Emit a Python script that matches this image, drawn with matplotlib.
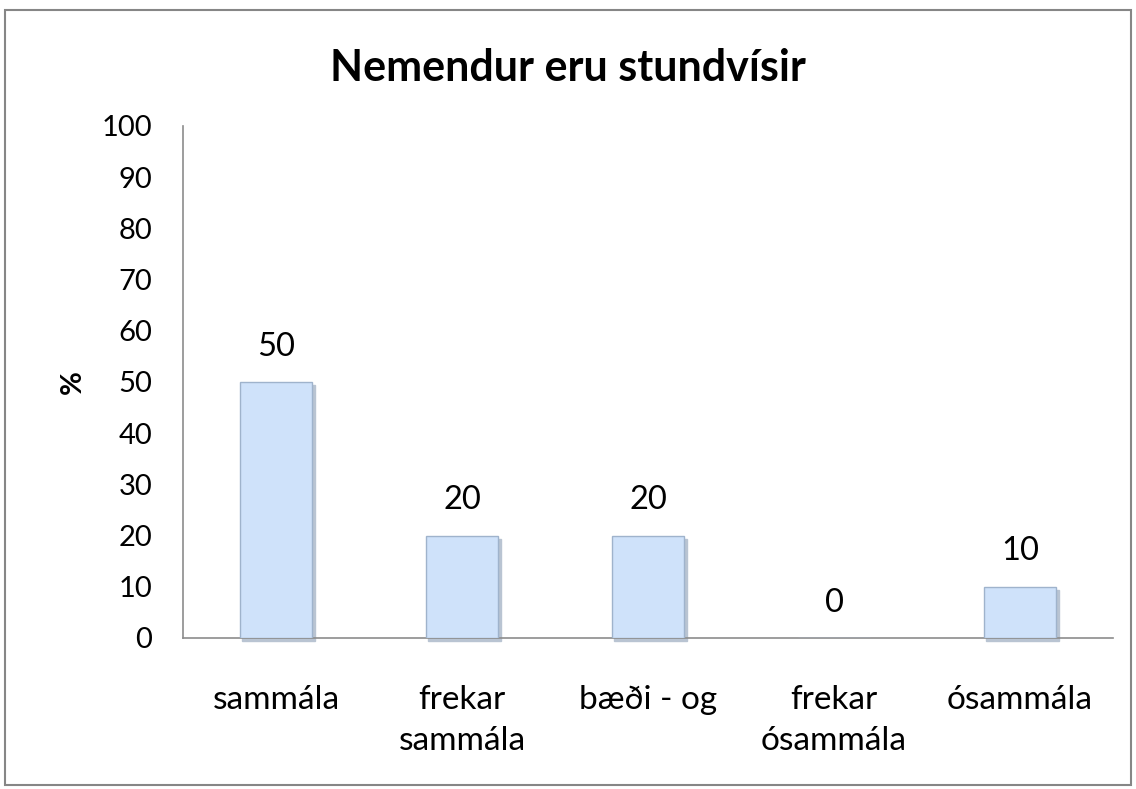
import matplotlib.pyplot as plt
from matplotlib.patches import Rectangle

# Gögn
categories = ['sammála', 'frekar\nsammála', 'bæði - og', 'frekar\nósammála', 'ósammála']
values = [50, 20, 20, 0, 10]
yticks = list(range(0, 101, 10))

plt.rcParams['font.family'] = ['Lato', 'DejaVu Sans']

fig = plt.figure(figsize=(11.36, 7.89), dpi=100)
ax = fig.add_axes([183 / 1136, 1 - 638 / 789, (1113 - 183) / 1136, (638 - 126) / 789])

x = range(len(categories))
bars = ax.bar(x, values, width=0.39, color='#cfe2fa', edgecolor='#9fb3cc', linewidth=1.0, zorder=3)

# skuggi undir súlum
for b in bars:
    if b.get_height() > 0:
        ax.add_patch(Rectangle((b.get_x() + 0.012, -0.6), b.get_width(), b.get_height(),
                               color='#b9c4d2', zorder=2, clip_on=False))

for xi, v in zip(x, values):
    ax.text(xi, v + 4, str(v), ha='center', va='bottom', fontsize=23.5)

ax.set_xlim(-0.5, len(categories) - 0.5)
ax.set_ylim(0, 100)
ax.set_yticks(yticks)
ax.set_xticks(list(x))
ax.set_xticklabels(categories, fontsize=24, linespacing=1.45)
ax.tick_params(axis='y', labelsize=21, length=0, pad=22)
ax.tick_params(axis='x', length=0, pad=34)
for lab in ax.get_yticklabels():
    lab.set_horizontalalignment('right')

for s in ['top', 'right']:
    ax.spines[s].set_visible(False)
ax.spines['left'].set_color('#8c8c8c')
ax.spines['bottom'].set_color('#8c8c8c')
ax.spines['left'].set_linewidth(1.2)
ax.spines['bottom'].set_linewidth(1.2)

ax.set_ylabel('%', fontsize=21, fontweight='bold')
ax.yaxis.set_label_coords(-97 / 930, 0.5)
fig.text(0.5, 1 - 68 / 789, 'Nemendur eru stundvísir', ha='center', va='center',
         fontsize=31, fontweight='bold')

# rammi utan um myndina
fig.add_artist(Rectangle((5 / 1136, 4 / 789), 1126 / 1136, 775 / 789, fill=False,
                         edgecolor='#868686', linewidth=1.5, transform=fig.transFigure))

fig.savefig('out.png', dpi=100)
